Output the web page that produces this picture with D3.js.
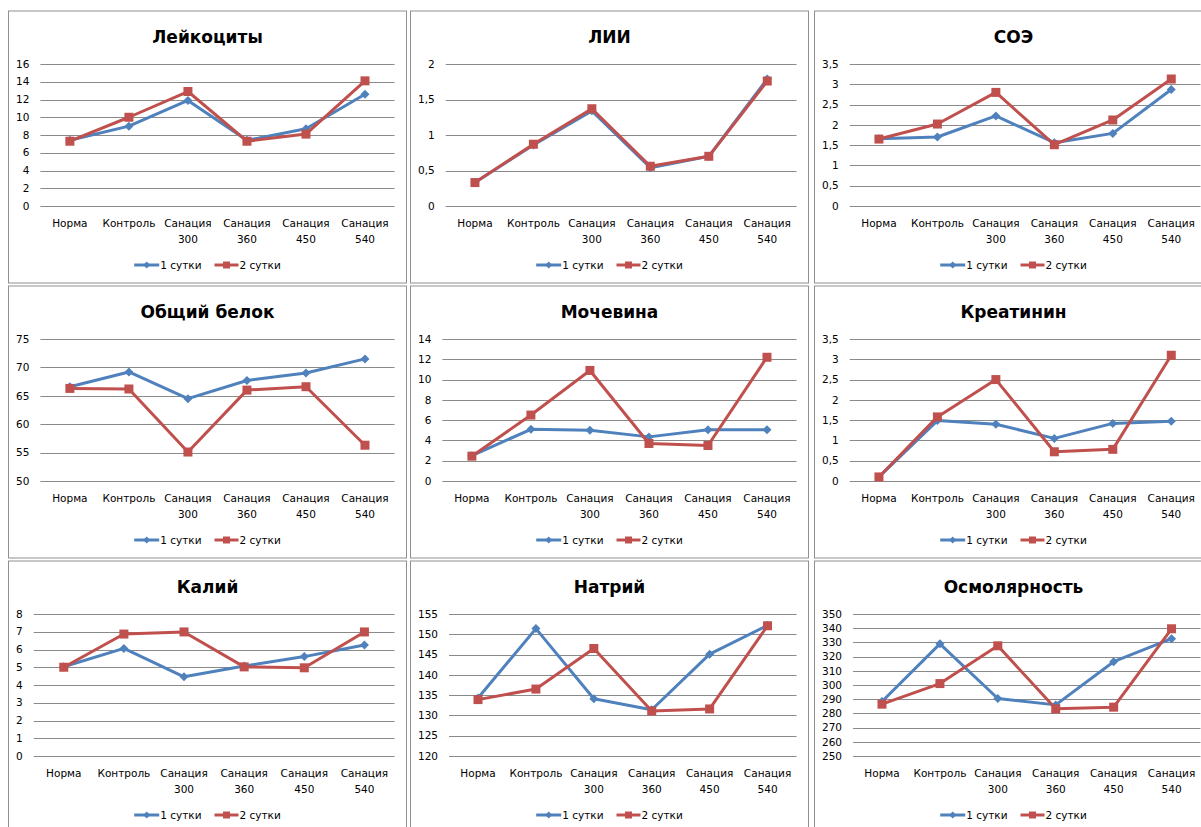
<!DOCTYPE html>
<html>
<head>
<meta charset="utf-8">
<script src="https://cdnjs.cloudflare.com/ajax/libs/d3/7.8.5/d3.min.js"></script>
<style>
    body { margin: 0; background: #fff; }
    text { font-family: "DejaVu Sans", sans-serif; fill: #000; }
</style>
</head>
<body>
<div id="chart"></div>
<script>
var categories = ["Норма", "Контроль", "Санация 300", "Санация 360", "Санация 450", "Санация 540"];
var seriesNames = ["1 сутки", "2 сутки"];

// values, one pair of arrays per indicator
var leukocytes1 = [7.4, 9.0, 11.9, 7.4, 8.7, 12.6];
var leukocytes2 = [7.3, 10.0, 12.9, 7.3, 8.1, 14.1];
var lii1 = [0.33, 0.86, 1.34, 0.54, 0.70, 1.79];
var lii2 = [0.33, 0.87, 1.37, 0.56, 0.70, 1.76];
var esr1 = [1.66, 1.70, 2.22, 1.56, 1.79, 2.87];
var esr2 = [1.65, 2.02, 2.80, 1.51, 2.12, 3.13];
var protein1 = [66.6, 69.2, 64.5, 67.7, 69.0, 71.5];
var protein2 = [66.3, 66.2, 55.1, 66.0, 66.6, 56.3];
var urea1 = [2.5, 5.1, 5.0, 4.35, 5.05, 5.05];
var urea2 = [2.45, 6.5, 10.9, 3.7, 3.5, 12.2];
var creatinine1 = [0.1, 1.49, 1.40, 1.05, 1.42, 1.47];
var creatinine2 = [0.1, 1.58, 2.50, 0.72, 0.78, 3.10];
var potassium1 = [5.03, 6.06, 4.46, 5.07, 5.6, 6.25];
var potassium2 = [5.0, 6.87, 6.99, 5.02, 4.97, 6.99];
var sodium1 = [134.3, 151.4, 134.1, 131.4, 145.1, 152.2];
var sodium2 = [133.9, 136.5, 146.5, 131.1, 131.6, 152.1];
var osmolarity1 = [288.4, 329, 290.5, 286, 316.4, 332.6];
var osmolarity2 = [286.5, 301, 327.6, 283.2, 284.4, 339.6];

var titles = ["Лейкоциты", "ЛИИ", "СОЭ", "Общий белок", "Мочевина", "Креатинин", "Калий", "Натрий", "Осмолярность"];
var yMin = [0, 0, 0, 50, 0, 0, 0, 120, 250];
var yMax = [16, 2, 3.5, 75, 14, 3.5, 8, 155, 350];
var yStep = [2, 0.5, 0.5, 5, 2, 0.5, 1, 5, 10];
var day1 = [leukocytes1, lii1, esr1, protein1, urea1, creatinine1, potassium1, sodium1, osmolarity1];
var day2 = [leukocytes2, lii2, esr2, protein2, urea2, creatinine2, potassium2, sodium2, osmolarity2];

var colors = ["#4F81BD", "#C0504D"];
var colX = [8.5, 410.5, 814.5];
var rowY = [11, 286, 561];

var svg = d3.select("#chart").append("svg")
    .attr("width", 1201)
    .attr("height", 827);

function fmt(v) {
    return String(+v.toFixed(2)).replace(".", ",");
}

function markerPath(i, s) {
    if (i === 0) return "M0," + (-s) + "L" + s + ",0L0," + s + "L" + (-s) + ",0Z";
    return "M" + (-s) + "," + (-s) + "H" + s + "V" + s + "H" + (-s) + "Z";
}

LinePanel = function(_index) {
    this.index = _index;
    this.px = colX[_index % 3];
    this.py = rowY[Math.floor(_index / 3)];
    this.initVis();
};

LinePanel.prototype.initVis = function() {
    var vis = this;
    var i = vis.index;

    vis.width = 398;
    vis.height = 272;
    vis.g = svg.append("g").attr("transform", "translate(" + vis.px + "," + vis.py + ")");

    vis.g.append("rect")
        .attr("width", vis.width)
        .attr("height", vis.height)
        .attr("fill", "#fff")
        .attr("stroke", "#8f8f8f");

    vis.g.append("text")
        .attr("x", vis.width / 2)
        .attr("y", 31.5)
        .attr("text-anchor", "middle")
        .style("font-size", "17px")
        .style("font-weight", "bold")
        .text(titles[i]);

    vis.top = 53;
    vis.bottom = 195;
    vis.y = d3.scaleLinear().domain([yMin[i], yMax[i]]).range([vis.bottom, vis.top]);
    vis.ticks = d3.range(yMin[i], yMax[i] + yStep[i] / 2, yStep[i]);

    // tick labels first, their width decides where the plot starts
    vis.tickLabels = vis.g.selectAll(".ytick")
        .data(vis.ticks)
        .enter().append("text")
        .attr("class", "ytick")
        .attr("text-anchor", "end")
        .attr("y", function(d) { return vis.y(d) + 3.7; })
        .style("font-size", "10.5px")
        .text(fmt);

    var maxW = 0;
    vis.tickLabels.each(function() { maxW = Math.max(maxW, this.getComputedTextLength()); });
    vis.left = 18.5 + maxW;
    vis.right = 386;
    vis.tickLabels.attr("x", vis.left - 11);

    vis.x = d3.scalePoint().domain(categories).range([vis.left, vis.right]).padding(0.5);

    vis.g.selectAll(".grid")
        .data(vis.ticks)
        .enter().append("line")
        .attr("class", "grid")
        .attr("x1", vis.left)
        .attr("x2", vis.right)
        .attr("y1", function(d) { return Math.round(vis.y(d)) + 0.5; })
        .attr("y2", function(d) { return Math.round(vis.y(d)) + 0.5; })
        .attr("stroke", "#8a8a8a");

    // category labels, split "Санация 300" over two lines
    var cat = vis.g.selectAll(".xlabel")
        .data(categories)
        .enter().append("text")
        .attr("class", "xlabel")
        .attr("text-anchor", "middle")
        .style("font-size", "10.5px");
    cat.selectAll("tspan")
        .data(function(d) { var p = d.split(" "); return p.map(function(t) { return {t: t, c: d}; }); })
        .enter().append("tspan")
        .attr("x", function(d) { return vis.x(d.c); })
        .attr("y", function(d, k) { return 216 + k * 15.5; })
        .text(function(d) { return d.t; });

    vis.updateVis();
    vis.drawLegend();
};

LinePanel.prototype.updateVis = function() {
    var vis = this;
    var i = vis.index;
    var line = d3.line()
        .x(function(d, k) { return vis.x(categories[k]); })
        .y(function(d) { return vis.y(d); });

    [day1[i], day2[i]].forEach(function(values, s) {
        vis.g.append("path")
            .datum(values)
            .attr("d", line)
            .attr("fill", "none")
            .attr("stroke", colors[s])
            .attr("stroke-width", 3)
            .attr("stroke-linejoin", "round");

        vis.g.selectAll(".m" + s)
            .data(values)
            .enter().append("path")
            .attr("class", "m" + s)
            .attr("d", markerPath(s, s === 0 ? 4.5 : 4.5))
            .attr("transform", function(d, k) {
                return "translate(" + vis.x(categories[k]) + "," + vis.y(d) + ")";
            })
            .attr("fill", colors[s]);
    });
};

LinePanel.prototype.drawLegend = function() {
    var vis = this;
    var leg = vis.g.append("g");
    var lineW = [25, 24];
    var xpos = 0;

    seriesNames.forEach(function(name, s) {
        leg.append("line")
            .attr("x1", xpos)
            .attr("x2", xpos + lineW[s])
            .attr("y1", 254)
            .attr("y2", 254)
            .attr("stroke", colors[s])
            .attr("stroke-width", 3);
        leg.append("path")
            .attr("d", markerPath(s, s === 0 ? 3.5 : 3.5))
            .attr("transform", "translate(" + (xpos + lineW[s] / 2) + ",254)")
            .attr("fill", colors[s]);
        var t = leg.append("text")
            .attr("x", xpos + lineW[s] + 1)
            .attr("y", 257.7)
            .style("font-size", "10.5px")
            .text(name);
        xpos += lineW[s] + 1 + t.node().getComputedTextLength() + 13;
    });

    var total = xpos - 13;
    leg.attr("transform", "translate(" + (vis.width / 2 - total / 2) + ",0)");
};

titles.forEach(function(t, i) {
    new LinePanel(i);
});
</script>
</body>
</html>
